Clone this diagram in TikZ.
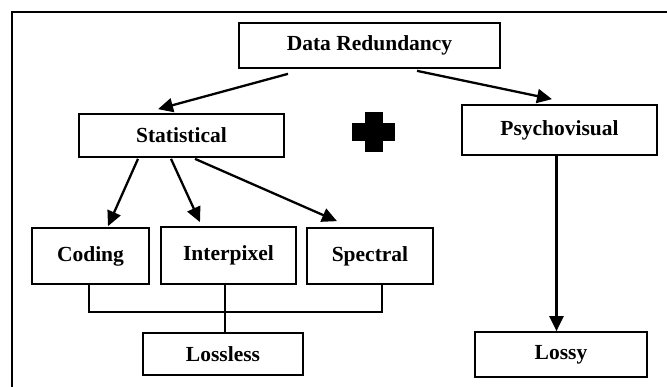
\documentclass[tikz,border=0pt]{standalone}
\usepackage{fontspec}
\setmainfont{Liberation Serif}
\usetikzlibrary{arrows.meta}
\begin{document}
\begin{tikzpicture}[x=1pt,y=-1pt,
  box/.style={draw,line width=1.7pt,inner sep=0pt,font=\fontsize{21.5}{24}\selectfont\bfseries},
  arr/.style={line width=2.3pt,-{Triangle[length=15pt,width=14pt]}},
  link/.style={line width=1.7pt}]
\useasboundingbox (0,0) rectangle (667,386);
\fill[white] (0,0) rectangle (667,386);
% outer frame (open at right and bottom)
\draw[line width=1.8pt] (12,390) -- (12,12) -- (670,12);
% boxes
\node[box,minimum width=261pt,minimum height=45pt] (dr) at (369.5,45.5) {Data Redundancy};
\node[box,minimum width=205pt,minimum height=43pt] (st) at (181.5,135.5) {Statistical};
\node[box,minimum width=195pt,minimum height=50pt] (ps) at (559.5,130) {\raisebox{4pt}{Psychovisual}};
\node[box,minimum width=117pt,minimum height=56pt] (cod) at (90.5,256) {\raisebox{3pt}{Coding}};
\node[box,minimum width=135pt,minimum height=57pt] (int) at (228.5,255.5) {\raisebox{5pt}{Interpixel}};
\node[box,minimum width=126pt,minimum height=56pt] (spe) at (370,256) {\raisebox{3pt}{Spectral}};
\node[box,minimum width=160pt,minimum height=42pt] (ll) at (223,354) {\raisebox{-2pt}{Lossless}};
\node[box,minimum width=172pt,minimum height=45pt] (ly) at (561,354.5) {\raisebox{-2pt}{Lossy}};
% plus sign
\fill (365,112) rectangle (383,152);
\fill (352,123) rectangle (395,141);
% arrows
\draw[arr] ([shift={(-81.5,5)}]dr.south) -- ([shift={(-23.5,-4)}]st.north);
\draw[arr] ([shift={(47.5,2)}]dr.south) -- ([shift={(-7.5,-5)}]ps.north);
\draw[arr] ([shift={(-43.5,1)}]st.south) -- ([shift={(17.5,-1)}]cod.north);
\draw[arr] ([shift={(-10.5,1)}]st.south) -- ([shift={(-28.5,-4)}]int.north);
\draw[arr] ([shift={(13.5,1)}]st.south) -- ([shift={(-33,-6)}]spe.north);
\draw[arr] ([xshift=-3pt]ps.south) -- ([xshift=-3pt]ps.south |- ly.north);
% lossless joins
\coordinate (cl) at ([xshift=-1.5pt]cod.south);
\coordinate (sl) at ([xshift=12pt]spe.south);
\coordinate (bar) at (0,312);
\draw[link] (cl) -- (cl |- bar) -- (sl |- bar) -- (sl);
\draw[link] ([xshift=-3.5pt]int.south) -- ([xshift=-3.5pt]int.south |- ll.north);
\end{tikzpicture}
\end{document}
